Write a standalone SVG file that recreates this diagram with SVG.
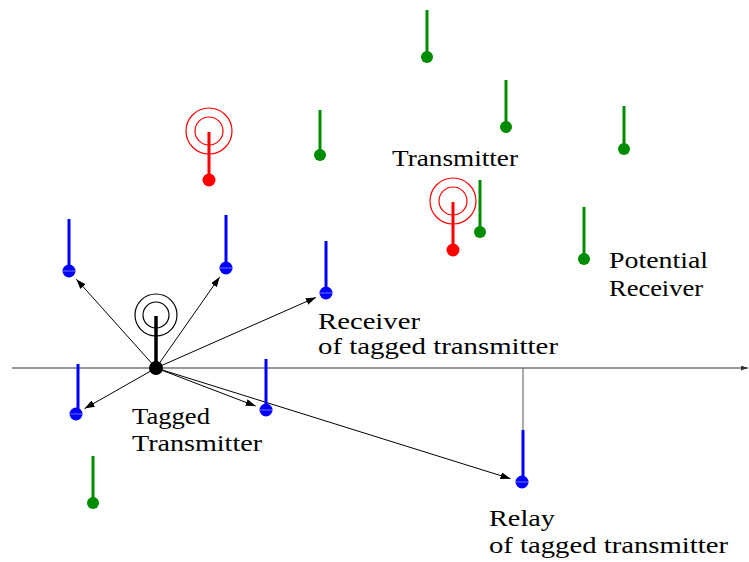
<svg xmlns="http://www.w3.org/2000/svg" width="749" height="562" viewBox="0 0 749 562">
<style>
.t{font-family:"Liberation Serif","Times New Roman",Times,serif;font-size:24px;fill:#000}
.g line{stroke:#008c00;stroke-width:3}
.g circle{fill:#008c00}
.b line{stroke:#0000ff;stroke-width:3}
.b circle{fill:#0000ff}
.b .m{stroke:#8c8cff;stroke-width:0.8}
.r line{stroke:#ff0000;stroke-width:3}
.r circle{fill:#ff0000}
.r .ring{fill:none;stroke:#ff0000;stroke-width:1.2}
.conn line{stroke:#000;stroke-width:1}
</style>
<defs>
<marker id="ah" markerUnits="userSpaceOnUse" markerWidth="11" markerHeight="8" refX="10" refY="3.5" orient="auto">
<path d="M0,0 L10,3.5 L0,7 z" fill="#000"/>
</marker>
<marker id="ah2" markerUnits="userSpaceOnUse" markerWidth="8" markerHeight="6" refX="7" refY="2.5" orient="auto">
<path d="M0,0 L7,2.5 L0,5 z" fill="#333"/>
</marker>
</defs>

<g id="connectors" class="conn">
<line x1="12" y1="368" x2="748" y2="368" style="stroke:#333" marker-end="url(#ah2)"/>
<line x1="523" y1="368" x2="523" y2="431" style="stroke:#555"/>
<line x1="156" y1="368" x2="76.3" y2="279.2" marker-end="url(#ah)"/>
<line x1="156" y1="368" x2="219.7" y2="277" marker-end="url(#ah)"/>
<line x1="156" y1="368" x2="315.9" y2="297.4" marker-end="url(#ah)"/>
<line x1="156" y1="368" x2="84.6" y2="408.6" marker-end="url(#ah)"/>
<line x1="156" y1="368" x2="255.7" y2="406.1" marker-end="url(#ah)"/>
<line x1="156" y1="368" x2="510.5" y2="478.7" marker-end="url(#ah)"/>
</g>

<g id="tagged-transmitter">
<circle cx="156" cy="315" r="21" fill="none" stroke="#000" stroke-width="1.2"/>
<circle cx="156" cy="315" r="13" fill="none" stroke="#000" stroke-width="1.2"/>
<line x1="156" y1="316" x2="156" y2="368" stroke="#000" stroke-width="3.5"/>
<circle cx="156" cy="368" r="7" fill="#000"/>
</g>

<g id="transmitter-1" class="r">
<circle class="ring" cx="209" cy="131" r="23"/>
<circle class="ring" cx="209" cy="131" r="14"/>
<line x1="209" y1="132" x2="209" y2="178"/>
<circle cx="209" cy="180" r="6.5"/>
</g>
<g id="transmitter-2" class="r">
<circle class="ring" cx="453" cy="201" r="23"/>
<circle class="ring" cx="453" cy="201" r="14"/>
<line x1="453" y1="202" x2="453" y2="248"/>
<circle cx="453" cy="250" r="6.5"/>
</g>

<g id="green-1" class="g"><line x1="427" y1="10" x2="427" y2="52"/><circle cx="427" cy="57" r="6"/></g>
<g id="green-2" class="g"><line x1="506" y1="80" x2="506" y2="122"/><circle cx="506" cy="127" r="6"/></g>
<g id="green-3" class="g"><line x1="320" y1="110" x2="320" y2="150"/><circle cx="320" cy="155" r="6"/></g>
<g id="green-4" class="g"><line x1="624" y1="106" x2="624" y2="144"/><circle cx="624" cy="149" r="6"/></g>
<g id="green-5" class="g"><line x1="480" y1="180" x2="480" y2="227"/><circle cx="480" cy="232" r="6"/></g>
<g id="green-6" class="g"><line x1="584" y1="207" x2="584" y2="254"/><circle cx="584" cy="259" r="6"/></g>
<g id="green-7" class="g"><line x1="93" y1="456" x2="93" y2="498"/><circle cx="93" cy="503" r="6"/></g>

<g id="blue-1" class="b"><line x1="69" y1="219" x2="69" y2="266"/><circle cx="69" cy="271" r="6.5"/><line class="m" x1="62.5" y1="271" x2="75.5" y2="271"/></g>
<g id="blue-2" class="b"><line x1="226" y1="215" x2="226" y2="263"/><circle cx="226" cy="268" r="6.5"/><line class="m" x1="219.5" y1="268" x2="232.5" y2="268"/></g>
<g id="blue-3" class="b"><line x1="326" y1="241" x2="326" y2="288"/><circle cx="326" cy="293" r="6.5"/><line class="m" x1="319.5" y1="293" x2="332.5" y2="293"/></g>
<g id="blue-4" class="b"><line x1="78" y1="364" x2="78" y2="409"/><circle cx="76" cy="414" r="6.5"/><line class="m" x1="69.5" y1="414" x2="82.5" y2="414"/></g>
<g id="blue-5" class="b"><line x1="266" y1="359" x2="266" y2="405"/><circle cx="266" cy="410" r="6.5"/><line class="m" x1="259.5" y1="410" x2="272.5" y2="410"/></g>
<g id="relay" class="b"><line x1="523" y1="430" x2="523" y2="477"/><circle cx="522" cy="482" r="6.5"/><line class="m" x1="515.5" y1="482" x2="528.5" y2="482"/></g>

<g id="labels">
<text class="t" x="392" y="166" textLength="126" lengthAdjust="spacingAndGlyphs">Transmitter</text>
<text class="t" x="609" y="268" textLength="99" lengthAdjust="spacingAndGlyphs">Potential</text>
<text class="t" x="609" y="296" textLength="94" lengthAdjust="spacingAndGlyphs">Receiver</text>
<text class="t" x="318" y="329" textLength="102" lengthAdjust="spacingAndGlyphs">Receiver</text>
<text class="t" x="318" y="354" textLength="240" lengthAdjust="spacingAndGlyphs">of tagged transmitter</text>
<text class="t" x="132" y="424" textLength="78" lengthAdjust="spacingAndGlyphs">Tagged</text>
<text class="t" x="132" y="451" textLength="130" lengthAdjust="spacingAndGlyphs">Transmitter</text>
<text class="t" x="489" y="526" textLength="66" lengthAdjust="spacingAndGlyphs">Relay</text>
<text class="t" x="489" y="553" textLength="239" lengthAdjust="spacingAndGlyphs">of tagged transmitter</text>
</g>
</svg>
